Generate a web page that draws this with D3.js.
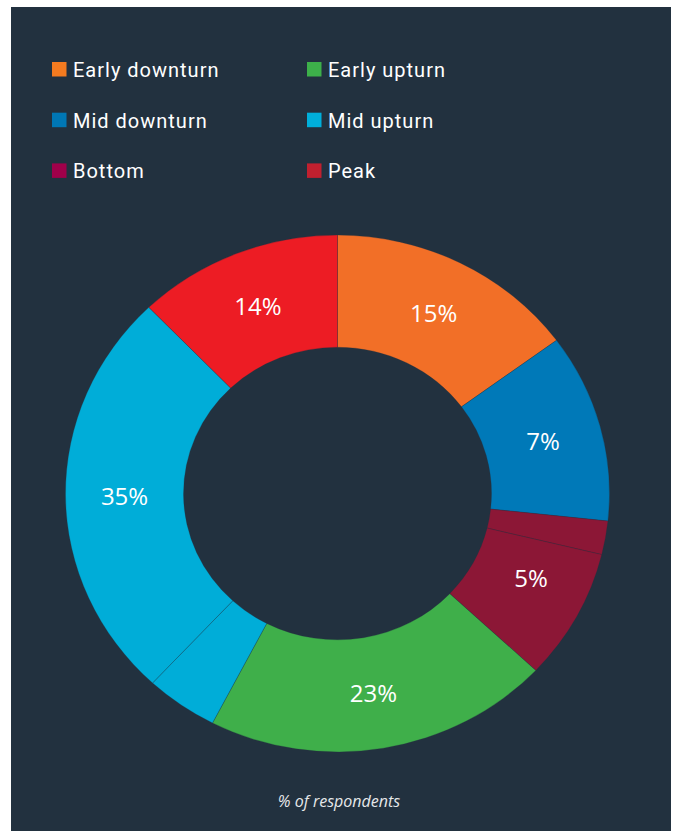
<!DOCTYPE html>
<html>
<head>
<meta charset="utf-8">
<script src="https://cdn.jsdelivr.net/npm/d3@7"></script>
<style>
  html, body { margin: 0; padding: 0; background: #ffffff; }
  svg { display: block; }
</style>
</head>
<body>
<div id="chart"></div>
<script>
// ---- data ----
const categories = ["Early downturn", "Mid downturn", "Bottom", "Early upturn", "Mid upturn", "Peak"];
const valueLabels = ["15%", "7%", "5%", "23%", "35%", "14%"];
const sliceColors = ["#f26f27", "#0079b8", "#8c1736", "#3faf4a", "#00add8", "#ed1c24"];
const legendColors = ["#f47b20", "#0077b5", "#a0004a", "#3db04a", "#00afdb", "#c1202f"];
// drawn segments (clockwise from 12 o'clock)
const segmentCategory = [0, 1, 2, 2, 3, 4, 4, 5];
const segmentValues = [14.9, 11.8, 2.1, 8.2, 20.6, 4.3, 25.9, 12.2];
const segmentLabelled = [true, true, true, true, true, false, true, true];
const legendOrder = [0, 3, 1, 4, 2, 5]; // row-major, 2 columns
const footnote = "% of respondents";

// ---- layout ----
const W = 677, H = 831;
const bg = "#22313f";
const svg = d3.select("#chart").append("svg").attr("width", W).attr("height", H);

svg.append("rect").attr("x", 11).attr("y", 7).attr("width", 660).attr("height", H - 7).attr("fill", bg);

// legend
const legend = svg.append("g");
legendOrder.forEach((ci, i) => {
  const col = i % 2, row = Math.floor(i / 2);
  const g = legend.append("g").attr("transform", `translate(${52 + col * 255},${62 + row * 50.7})`);
  g.append("rect").attr("width", 14.5).attr("height", 14.5).attr("fill", legendColors[ci]);
  g.append("text")
    .attr("x", 21).attr("y", 14.8)
    .attr("fill", "#ffffff")
    .attr("font-family", "Roboto, 'DejaVu Sans', sans-serif")
    .attr("font-size", 20)
    .attr("font-weight", 400)
    .attr("letter-spacing", 1)
    .text(categories[ci]);
});

// donut (slightly flattened vertically, as in the reference)
const cx = 337.5, cy = 493.5, rOuter = 272, rInner = 154, ky = 0.95;
const pie = d3.pie().sort(null).value(d => d.v).startAngle(0).endAngle(2 * Math.PI);
const segs = segmentValues.map((v, i) => ({ v, c: segmentCategory[i], lab: segmentLabelled[i] }));
const arcs = pie(segs);
const arc = d3.arc().innerRadius(rInner).outerRadius(rOuter);

const gd = svg.append("g").attr("transform", `translate(${cx},${cy}) scale(1,${ky})`);
gd.selectAll("path.seg").data(arcs).join("path")
  .attr("class", "seg")
  .attr("d", arc)
  .attr("fill", d => sliceColors[d.data.c])
  .attr("stroke", bg)
  .attr("stroke-opacity", 0.45)
  .attr("stroke-width", 0.6)
  .attr("vector-effect", "non-scaling-stroke");

// labels at centroid of labelled segments per category
const gl = svg.append("g").attr("transform", `translate(${cx},${cy})`);
categories.forEach((name, ci) => {
  const own = arcs.filter(a => a.data.c === ci && a.data.lab);
  const s = d3.min(own, a => a.startAngle), e = d3.max(own, a => a.endAngle);
  const [lx, ly] = arc.centroid({ startAngle: s, endAngle: e });
  gl.append("text")
    .attr("x", lx).attr("y", ly * ky)
    .attr("text-anchor", "middle")
    .attr("dominant-baseline", "central")
    .attr("fill", "#ffffff")
    .attr("font-family", "'Open Sans', 'Noto Sans', sans-serif")
    .attr("font-size", 24)
    .text(valueLabels[ci]);
});

// footnote
svg.append("text")
  .attr("x", 339).attr("y", 807)
  .attr("text-anchor", "middle")
  .attr("fill", "#e6e8ea")
  .attr("font-family", "'Open Sans', 'Noto Sans', sans-serif")
  .attr("font-style", "italic")
  .attr("font-size", 16)
  .text(footnote);
</script>
</body>
</html>
